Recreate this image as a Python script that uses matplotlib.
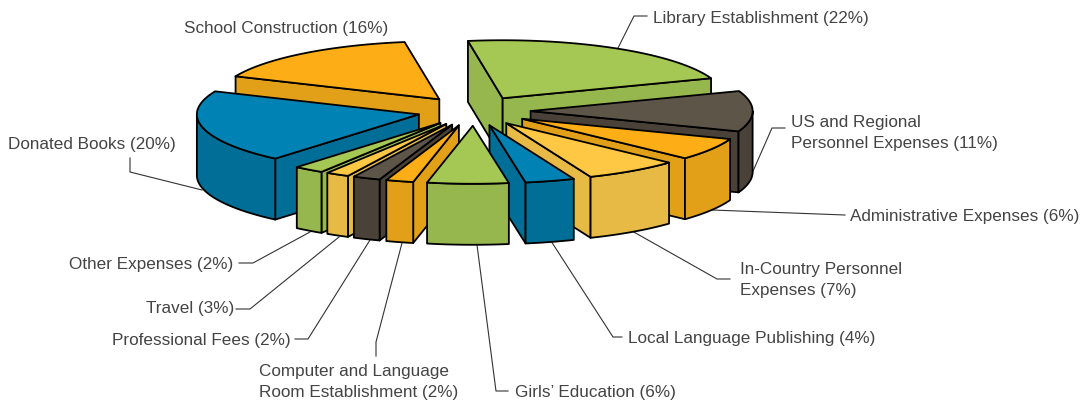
"""Exploded 3D pie of programme expenses, drawn as projected wedges."""
import numpy as np
import matplotlib
matplotlib.use("Agg")
import matplotlib.pyplot as plt
from matplotlib.patches import Polygon

# clockwise from the back of the pie; shares read off the slice angles, so
# they differ a little from the rounded percentages in the labels
names = ["Library", "US", "Admin", "InCountry", "Local", "Girls",
         "Computer", "Professional", "Travel", "Other", "Donated", "School"]
shares = [21.9, 11.3, 6.2, 6.9, 3.6, 5.9, 2, 2, 1.7, 2.2, 20.3, 16]
tops = ["#A4C853", "#5E5549", "#FDAE17", "#FFC844", "#0083B4", "#A4C853",
        "#FDAE17", "#5E5549", "#FFC844", "#A4C853", "#0083B4", "#FDAE17"]
walls = ["#96B74E", "#4A4239", "#E2A018", "#E6BA44", "#006E96", "#96B74E",
         "#E2A018", "#4A4239", "#E6BA44", "#96B74E", "#006E96", "#E2A018"]

labels = [
    ("Library Establishment (22%)", 653, 18),
    ("School Construction (16%)", 184, 29),
    ("US and Regional\nPersonnel Expenses (11%)", 791, 133),
    ("Administrative Expenses (6%)", 850, 217),
    ("In-Country Personnel\nExpenses (7%)", 740, 280),
    ("Local Language Publishing (4%)", 628, 338),
    ("Girls\u2019 Education (6%)", 515, 392),
    ("Computer and Language\nRoom Establishment (2%)", 259, 382),
    ("Professional Fees (2%)", 112, 340),
    ("Travel (3%)", 146, 309),
    ("Other Expenses (2%)", 69, 264),
    ("Donated Books (20%)", 8, 145),
]
leaders = [
    [(617, 50), (634, 16), (647, 16)],
    [(750, 178), (772, 128), (785, 128)],
    [(712, 210), (845, 215)],
    [(632, 231), (717, 279), (730, 279)],
    [(551, 241), (613, 337), (622, 337)],
    [(477, 245), (496, 391), (508, 391)],
    [(402, 243), (376, 342), (376, 356)],
    [(370, 240), (308, 339), (295, 339)],
    [(339, 237), (250, 309), (236, 309)],
    [(310, 232), (253, 263), (239, 263)],
    [(130, 158), (130, 172), (202, 190)],
]

CX, CY = 474, 111
RX, RY = 222, 58
EXPLODE = 0.255
DEPTH = 61
START = -9


def project(theta, r, ox, oy):
    t = np.radians(theta)
    return ox + r * RX * np.sin(t), oy - r * RY * np.cos(t)


fig = plt.figure(figsize=(10.81, 4.04), dpi=100)
ax = fig.add_axes([0, 0, 1, 1])
ax.set_xlim(0, 1081)
ax.set_ylim(404, 0)
ax.axis("off")

for pts in leaders:
    xs, ys = zip(*pts)
    ax.plot(xs, ys, color="#333333", lw=0.8, zorder=1)

for text, x, y in labels:
    ax.text(x, y, text, ha="left", va="center", fontsize=12.3, color="#444444",
            family="Liberation Sans", linespacing=1.47, zorder=1)

ends = START + np.cumsum(shares) * 3.6
starts = ends - np.array(shares) * 3.6
mids = (starts + ends) / 2
# back slices first so nearer ones paint over them
order = np.argsort(-np.cos(np.radians(mids)))

style = dict(ec="black", lw=1.3, joinstyle="round")
for rank, i in enumerate(order):
    z = 2 + rank
    ox, oy = project(mids[i], EXPLODE, CX, CY)
    a, b = starts[i], ends[i]

    # cut faces, only the ones turned toward the viewer
    for edge, visible in ((a, np.sin(np.radians(a)) < 0), (b, np.sin(np.radians(b)) > 0)):
        if visible:
            ex, ey = project(edge, 1, ox, oy)
            face = [(ox, oy), (ex, ey), (ex, ey + DEPTH), (ox, oy + DEPTH)]
            ax.add_patch(Polygon(face, fc=walls[i], zorder=z, **style))

    # outer rim, front half of the ellipse only
    lo, hi = max(a, 90), min(b, 270)
    if lo < hi:
        rim = np.linspace(lo, hi, 40)
        rx, ry = project(rim, 1, ox, oy)
        outline = np.r_[np.c_[rx, ry], np.c_[rx, ry + DEPTH][::-1]]
        ax.add_patch(Polygon(outline, fc=walls[i], zorder=z, **style))

    arc = np.linspace(a, b, 60)
    ax_, ay_ = project(arc, 1, ox, oy)
    top = np.r_[[(ox, oy)], np.c_[ax_, ay_]]
    ax.add_patch(Polygon(top, fc=tops[i], zorder=z, **style))

fig.savefig("out.png", dpi=100)
